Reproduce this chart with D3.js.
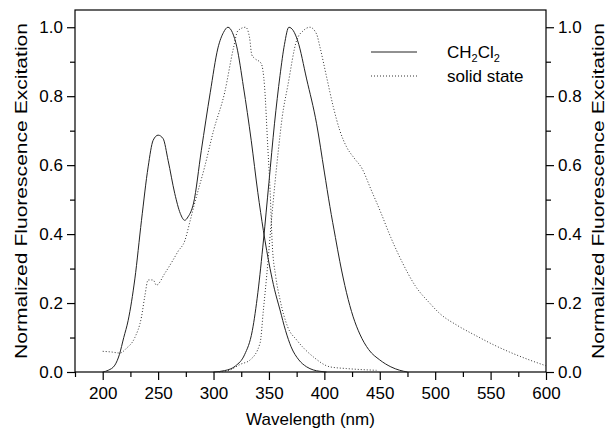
<!DOCTYPE html>
<html>
<head>
<meta charset="utf-8">
<script src="https://cdn.jsdelivr.net/npm/d3@7"></script>
<style>
  html, body { margin: 0; padding: 0; background: #fff; }
  svg text { font-family: "Liberation Sans", Arial, sans-serif; fill: #000; }
</style>
</head>
<body>
<svg id="chart"></svg>
<script>
const W = 609;
const H = 433;

// ── Data (wavelength nm, normalized intensity) ──────────────────────────────

const SOLN_EXC = [
  [200, 0], [205, 0.005], [211, 0.02], [215, 0.05], [219, 0.1], [223, 0.15],
  [229, 0.27], [235, 0.44], [241, 0.595], [245.5, 0.672], [250, 0.687],
  [254.5, 0.677], [259, 0.614], [265, 0.518], [270, 0.46], [274, 0.44],
  [277, 0.45], [282, 0.49], [289, 0.643], [297, 0.81], [304, 0.94],
  [309, 0.985], [313, 1.0], [317, 0.985], [321, 0.943], [327, 0.827],
  [334, 0.672], [340, 0.52], [345, 0.41], [351, 0.3], [355, 0.24],
  [360, 0.18], [365, 0.12], [370, 0.073], [377, 0.035], [384, 0.015],
  [390, 0.006], [396, 0.002], [402, 0]
];

const SOLN_EMI = [
  [300, 0], [310, 0.004], [320, 0.018], [328, 0.05], [335, 0.12],
  [340, 0.23], [345, 0.38], [350, 0.55], [355, 0.72], [360, 0.86],
  [364, 0.95], [368, 1.0], [372, 0.99], [376, 0.96], [384, 0.85],
  [393, 0.72], [400, 0.58], [405, 0.48], [410, 0.39], [414, 0.32],
  [420, 0.23], [426, 0.16], [432, 0.11], [440, 0.065], [450, 0.035],
  [460, 0.015], [468, 0.005], [475, 0]
];

const SOLID_EXC = [
  [200, 0.06], [208, 0.058], [215.5, 0.055], [221.5, 0.069], [229, 0.1],
  [235, 0.16], [238, 0.22], [241, 0.267], [245.5, 0.267], [248.5, 0.252],
  [256, 0.286], [263.5, 0.325], [268, 0.35], [274, 0.38], [279, 0.44],
  [283, 0.49], [292, 0.595], [300, 0.7], [310, 0.81], [318, 0.94],
  [322, 0.99], [329, 1.0], [332.5, 0.97], [334.5, 0.92], [337, 0.91],
  [343, 0.895], [346, 0.83], [349, 0.65], [351, 0.53], [353, 0.37],
  [356, 0.28], [360, 0.21], [367, 0.13], [375, 0.093], [390, 0.044],
  [405, 0.015], [420, 0.01], [447, 0.005]
];

const SOLID_EMI = [
  [305, 0], [315, 0.006], [324, 0.022], [333, 0.035], [342, 0.084],
  [345, 0.18], [348, 0.28], [352, 0.43], [355.5, 0.55], [358.5, 0.643],
  [362, 0.74], [367, 0.83], [375, 0.962], [381, 0.99], [387, 1.0],
  [393, 0.98], [396, 0.943], [402, 0.856], [408, 0.77], [414, 0.7],
  [420, 0.653], [427, 0.62], [434, 0.59], [442, 0.53], [450, 0.47],
  [460, 0.39], [470, 0.32], [482, 0.25], [495, 0.2], [504, 0.17],
  [520, 0.135], [537, 0.105], [552, 0.08], [567, 0.058], [585, 0.035], [600, 0.018]
];

const X_TICKS = [200, 250, 300, 350, 400, 450, 500, 550, 600];
const Y_TICKS = [0, 0.2, 0.4, 0.6, 0.8, 1.0];
const LEGEND = ['CH2Cl2', 'solid state'];

// ── Layout ──────────────────────────────────────────────────────────────────

const M = { left: 75, right: W - 546, top: 10, bottom: H - 372 };

const svg = d3.select('#chart').attr('width', W).attr('height', H);

const x = d3.scaleLinear().domain([175, 600]).range([M.left, W - M.right]);
const y = d3.scaleLinear().domain([0, 1.05]).range([H - M.bottom, M.top]);

// frame
svg.append('rect')
  .attr('x', M.left).attr('y', M.top)
  .attr('width', W - M.left - M.right).attr('height', H - M.top - M.bottom)
  .attr('fill', 'none').attr('stroke', '#000').attr('stroke-width', 1.2);

// ── Axes ────────────────────────────────────────────────────────────────────

const fmt = d3.format('.1f');

function styleAxis(g) {
  g.select('.domain').remove();
  g.selectAll('line').attr('stroke', '#000').attr('stroke-width', 1.2);
  g.selectAll('text').attr('font-size', 17).attr('fill', '#000');
}

const xMinor = d3.range(175, 601, 25).filter(v => v % 50 !== 0);
const yMinor = d3.range(0.1, 1.05, 0.2);

svg.append('g').attr('transform', `translate(0,${H - M.bottom})`)
  .call(d3.axisBottom(x).tickValues(X_TICKS).tickSize(8).tickPadding(7).tickFormat(d3.format('d')))
  .call(styleAxis);
svg.append('g').attr('transform', `translate(0,${H - M.bottom})`)
  .call(d3.axisBottom(x).tickValues(xMinor).tickSize(5).tickFormat(''))
  .call(styleAxis);

svg.append('g').attr('transform', `translate(${M.left},0)`)
  .call(d3.axisLeft(y).tickValues(Y_TICKS).tickSize(8).tickPadding(4).tickFormat(fmt))
  .call(styleAxis);
svg.append('g').attr('transform', `translate(${M.left},0)`)
  .call(d3.axisLeft(y).tickValues(yMinor).tickSize(5).tickFormat(''))
  .call(styleAxis);

svg.append('g').attr('transform', `translate(${W - M.right},0)`)
  .call(d3.axisRight(y).tickValues(Y_TICKS).tickSize(8).tickPadding(4).tickFormat(fmt))
  .call(styleAxis);
svg.append('g').attr('transform', `translate(${W - M.right},0)`)
  .call(d3.axisRight(y).tickValues(yMinor).tickSize(5).tickFormat(''))
  .call(styleAxis);

// axis titles
svg.append('text')
  .attr('x', (M.left + W - M.right) / 2).attr('y', 425)
  .attr('text-anchor', 'middle').attr('font-size', 17)
  .text('Wavelength (nm)');

const yMid = (M.top + H - M.bottom) / 2;
[27, 604].forEach(tx => {
  svg.append('text')
    .attr('transform', `translate(${tx},${yMid}) rotate(-90)`)
    .attr('text-anchor', 'middle').attr('font-size', 17)
    .attr('textLength', 336).attr('lengthAdjust', 'spacingAndGlyphs')
    .text('Normalized Fluorescence Excitation');
});

// ── Curves ──────────────────────────────────────────────────────────────────

const line = d3.line()
  .x(d => x(d[0])).y(d => y(d[1]))
  .curve(d3.curveMonotoneX);

const solidStyle  = { stroke: '#222', dash: null, width: 1 };
const dottedStyle = { stroke: '#333', dash: '1,2', width: 1 };

[[SOLN_EXC, solidStyle], [SOLN_EMI, solidStyle],
 [SOLID_EXC, dottedStyle], [SOLID_EMI, dottedStyle]].forEach(([data, s]) => {
  svg.append('path')
    .datum(data)
    .attr('d', line)
    .attr('fill', 'none')
    .attr('stroke', s.stroke)
    .attr('stroke-width', s.width)
    .attr('stroke-dasharray', s.dash);
});

// ── Legend ──────────────────────────────────────────────────────────────────

const leg = svg.append('g');
[solidStyle, dottedStyle].forEach((s, i) => {
  const ly = 52 + i * 24;
  leg.append('line')
    .attr('x1', 371).attr('x2', 417).attr('y1', ly).attr('y2', ly)
    .attr('stroke', s.stroke).attr('stroke-width', s.width)
    .attr('stroke-dasharray', s.dash);
});

const t1 = leg.append('text').attr('x', 447).attr('y', 58).attr('font-size', 17);
t1.append('tspan').text('CH');
t1.append('tspan').attr('font-size', 11).attr('dy', 4).text('2');
t1.append('tspan').attr('dy', -4).text('Cl');
t1.append('tspan').attr('font-size', 11).attr('dy', 4).text('2');

leg.append('text').attr('x', 447).attr('y', 82).attr('font-size', 17).text(LEGEND[1]);
</script>
</body>
</html>
